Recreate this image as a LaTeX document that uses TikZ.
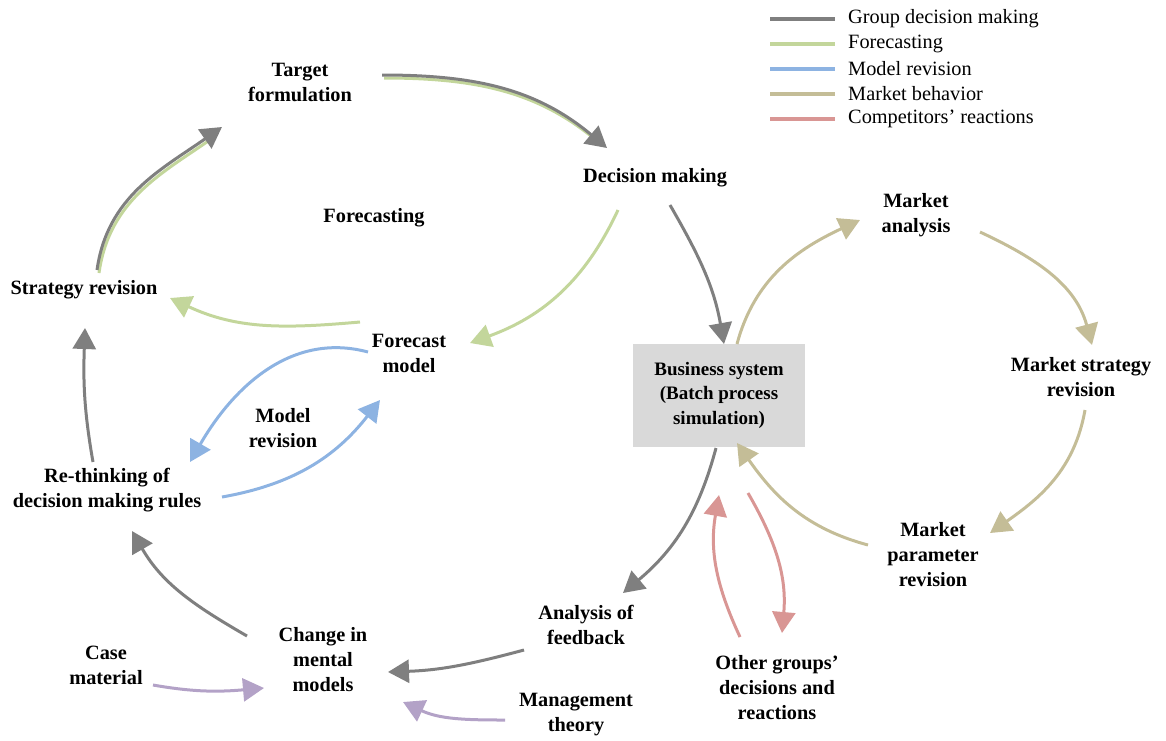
\documentclass[tikz,border=0pt]{standalone}
\usepackage{fontspec}
\setmainfont{Liberation Serif}
\usetikzlibrary{arrows.meta}

\definecolor{grpgray}{HTML}{7F7F7F}
\definecolor{fcgreen}{HTML}{C3D69B}
\definecolor{mrblue}{HTML}{8DB3E2}
\definecolor{mbtan}{HTML}{C4BD97}
\definecolor{crred}{HTML}{D99694}
\definecolor{inpurple}{HTML}{B3A2C7}
\definecolor{boxgray}{HTML}{D9D9D9}

\begin{document}
\begin{tikzpicture}[x=1pt, y=1pt,
  every node/.style={font=\fontsize{20.3}{25}\selectfont\bfseries, align=center, inner sep=0pt},
  >={Triangle[length=21pt,width=23pt]},
  link/.style={->, line width=3pt},
  grp/.style={link, draw=grpgray},
  fc/.style={link, draw=fcgreen},
  mr/.style={link, draw=mrblue},
  mb/.style={link, draw=mbtan},
  cr/.style={link, draw=crred},
  inp/.style={link, draw=inpurple},
  under/.style={-, shorten >=16pt, transform canvas={xshift=2pt, yshift=-3pt}},
  legend/.style={font=\fontsize{20.3}{25}\selectfont, anchor=west},
  sysbox/.style={fill=boxgray, minimum width=172pt, minimum height=103pt,
    font=\fontsize{19}{24.5}\selectfont\bfseries}
]
\useasboundingbox (0,0) rectangle (1166,-740);

\node (target) at (300,-82) {Target\\formulation};
\node (decision) at (655,-178) {Decision making};
\node (fclabel) at (374,-218) {Forecasting};
\node (strat) at (84,-290) {Strategy revision};
\node (fmodel) at (409,-353) {Forecast\\model};
\node (modrev) at (283,-428) {Model\\revision};
\node (rethink) at (107,-490) {Re-thinking of\\decision making rules};
\node[sysbox] (bsys) at (719,-395) {Business system\\(Batch process\\simulation)};
\node (manalysis) at (916,-215) {Market\\analysis};
\node (mstrat) at (1081,-377) {Market strategy\\revision};
\node (mparam) at (933,-555) {Market\\parameter\\revision};
\node (feedback) at (586,-625) {Analysis of\\feedback};
\node (change) at (323,-660) {Change in\\mental\\models};
\node (casemat) at (106,-665) {Case\\material};
\node (mgmt) at (576,-715) {Management\\theory};
\node (others) at (777,-688) {Other groups’\\decisions and\\reactions};

\foreach \c/\t [count=\i] in {grpgray/Group decision making, fcgreen/Forecasting,
    mrblue/Model revision, mbtan/Market behavior, crred/Competitors’ reactions} {
  \coordinate (ls\i) at (770,{-18.5-25*(\i-1)});
  \node[legend] (lt\i) at (848,{-18.5-25*(\i-1)}) {\t};
  \draw[\c, line width=4pt] (ls\i) -- ++(65,0);
}

\draw[fc, under] ([shift={(13,20)}]strat.center) to[out=82,in=215] ([shift={(-78,-45)}]target.center);
\draw[grp] ([shift={(13,20)}]strat.center) to[out=82,in=215] ([shift={(-78,-45)}]target.center);
\draw[fc, under] ([shift={(82,7)}]target.center) to[out=0,in=140] ([shift={(-48,30)}]decision.center);
\draw[grp] ([shift={(82,7)}]target.center) to[out=0,in=140] ([shift={(-48,30)}]decision.center);
\draw[grp] ([shift={(15,-27)}]decision.center) to[out=-60,in=100] ([shift={(5,51)}]bsys.center);
\draw[grp] ([shift={(-3,-53)}]bsys.center) to[out=-105,in=40] ([shift={(37,32)}]feedback.center);
\draw[grp] ([shift={(-62,-25)}]feedback.center) to[out=195,in=2] ([shift={(65,-12)}]change.center);
\draw[grp] ([shift={(-76,24)}]change.center) to[out=150,in=-60] ([shift={(25,-41)}]rethink.center);
\draw[grp] ([shift={(-14,28)}]rethink.center) to[out=100,in=-92] ([shift={(1,-38)}]strat.center);

\draw[fc] ([shift={(-37,-32)}]decision.center) to[out=245,in=20] ([shift={(61,10)}]fmodel.center);
\draw[fc] ([shift={(-49,31)}]fmodel.center) to[out=185,in=-25] ([shift={(86,-8)}]strat.center);

\draw[mr] ([shift={(-41,1)}]fmodel.center) to[out=165,in=60] ([shift={(83,28)}]rethink.center);
\draw[mr] ([shift={(115,-7)}]rethink.center) to[out=10,in=232] ([shift={(-29,-47)}]fmodel.center);

\draw[mb] ([shift={(18,51)}]bsys.center) to[out=75,in=205] ([shift={(-56,-5)}]manalysis.center);
\draw[mb] ([shift={(64,-17)}]manalysis.center) to[out=-25,in=105] ([shift={(11,32)}]mstrat.center);
\draw[mb] ([shift={(4,-33)}]mstrat.center) to[out=-100,in=35] ([shift={(57,22)}]mparam.center);
\draw[mb] ([shift={(-65,10)}]mparam.center) to[out=165,in=-55] ([shift={(18,-48)}]bsys.center);

\draw[cr] ([shift={(-37,51)}]others.center) to[out=115,in=-100] ([shift={(0,-100)}]bsys.center);
\draw[cr] ([shift={(29,-98)}]bsys.center) to[out=-60,in=85] ([shift={(5,55)}]others.center);

\draw[inp] ([shift={(47,-20)}]casemat.center) to[out=-10,in=185] ([shift={(-59,-28)}]change.center);
\draw[inp] ([shift={(-71,-5)}]mgmt.center) to[out=180,in=-25] ([shift={(80,-42)}]change.center);
\end{tikzpicture}
\end{document}
